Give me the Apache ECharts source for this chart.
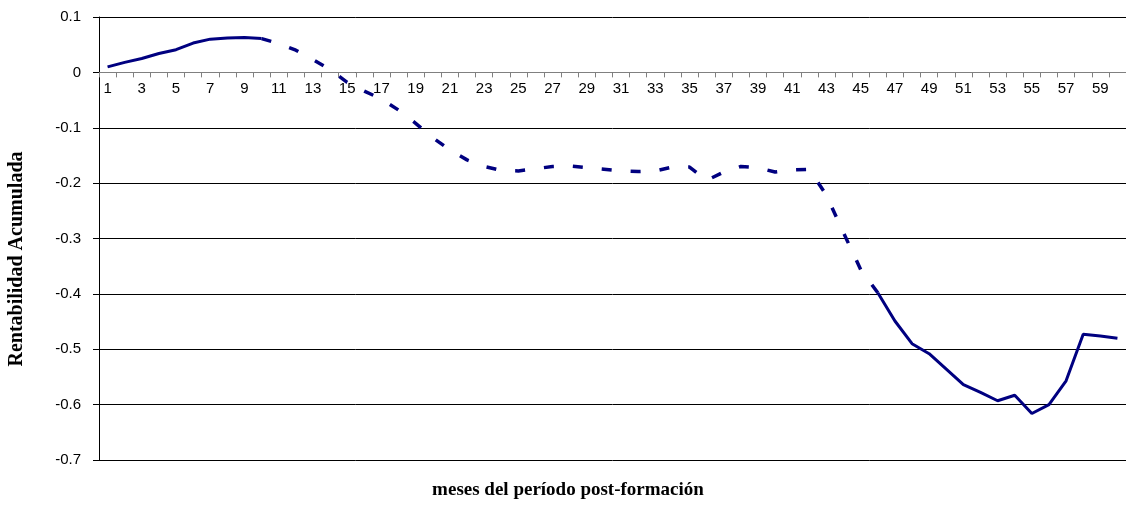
<!DOCTYPE html>
<html>
<head>
<meta charset="utf-8">
<script src="https://cdn.jsdelivr.net/npm/echarts@6/dist/echarts.min.js"></script>
<style>
  html, body { margin: 0; padding: 0; background: #fff; }
  #main { width: 1126px; height: 526px; }
</style>
</head>
<body>
<div id="main"></div>
<script>
// meses 1..60
var meses = [];
for (var m = 1; m <= 60; m++) meses.push(String(m));

// rentabilidad acumulada
var rentabilidad = [
  0.010, 0.018, 0.025, 0.034, 0.041, 0.053, 0.060, 0.062, 0.063, 0.061,
  0.052, 0.040, 0.023, 0.005, -0.018, -0.034, -0.048, -0.068, -0.092, -0.118,
  -0.140, -0.158, -0.170, -0.177, -0.178, -0.174, -0.170, -0.169, -0.172, -0.175,
  -0.178, -0.179, -0.178, -0.171, -0.171, -0.195, -0.180, -0.170, -0.172, -0.180,
  -0.176, -0.175, -0.222, -0.290, -0.356, -0.398, -0.449, -0.490, -0.508, -0.536,
  -0.564, -0.578, -0.593, -0.583, -0.616, -0.600, -0.557, -0.473, -0.476, -0.480
];

// tramo punteado (meses)
var tramoPunteado = [10, 46];

var yTicks = [0.1, 0, -0.1, -0.2, -0.3, -0.4, -0.5, -0.6, -0.7];

function tramo(desde, hasta) {
  return rentabilidad.map(function (v, i) {
    var mes = i + 1;
    return (mes >= desde && mes <= hasta) ? v : null;
  });
}

var myChart = echarts.init(document.getElementById('main'));

var gridTop = 17, gridBottom = 66, alto = 526;
var altoPlot = alto - gridTop - gridBottom;
// distancia del eje x (en 0) al borde inferior del grafico
var subirEje = altoPlot * (0 - yTicks[yTicks.length - 1]) / (yTicks[0] - yTicks[yTicks.length - 1]);

var lineaBase = { color: '#000080', width: 3 };
var fuenteTitulo = 'bold 19px "Liberation Serif"';

myChart.setOption({
  animation: false,
  textStyle: { fontFamily: 'Liberation Sans' },
  grid: { left: 99, right: 0, top: gridTop, bottom: gridBottom },
  graphic: [
    {
      type: 'text',
      x: 568, y: 490,
      style: { text: 'meses del período post-formación', font: fuenteTitulo, fill: '#000', align: 'center', verticalAlign: 'middle' }
    },
    {
      type: 'text',
      x: 17, y: 259,
      rotation: Math.PI / 2,
      style: { text: 'Rentabilidad Acumulada', font: 'bold 20px "Liberation Serif"', fill: '#000', align: 'center', verticalAlign: 'middle' }
    }
  ],
  xAxis: {
    type: 'category',
    data: meses,
    boundaryGap: true,
    position: 'bottom',
    offset: -subirEje,
    axisLine: { onZero: false, lineStyle: { color: '#808080', width: 1 } },
    axisTick: { show: true, interval: 0, length: 5, lineStyle: { color: '#808080' } },
    axisLabel: { interval: 1, margin: 9, fontSize: 15, color: '#000' },
    splitLine: { show: false }
  },
  yAxis: {
    type: 'value',
    min: -0.7,
    max: 0.1,
    interval: 0.1,
    axisLine: { show: true, lineStyle: { color: '#000', width: 1 } },
    axisTick: { show: true, length: 6, inside: false, lineStyle: { color: '#000' } },
    axisLabel: {
      margin: 18,
      fontSize: 15,
      color: '#000',
      formatter: function (v) {
        var r = Math.round(v * 10) / 10;
        return yTicks.indexOf(r) >= 0 ? String(r) : '';
      }
    },
    splitLine: { show: true, lineStyle: { color: '#000', width: 1 } }
  },
  series: [
    {
      name: 'inicio',
      type: 'line',
      data: tramo(1, tramoPunteado[0]),
      symbol: 'none',
      lineStyle: lineaBase
    },
    {
      name: 'intermedio',
      type: 'line',
      data: tramo(tramoPunteado[0], tramoPunteado[1]),
      symbol: 'none',
      lineStyle: { color: '#000080', width: 3.5, type: [10, 19], cap: 'butt' }
    },
    {
      name: 'final',
      type: 'line',
      data: tramo(tramoPunteado[1], 60),
      symbol: 'none',
      lineStyle: lineaBase
    }
  ]
});
</script>
</body>
</html>
